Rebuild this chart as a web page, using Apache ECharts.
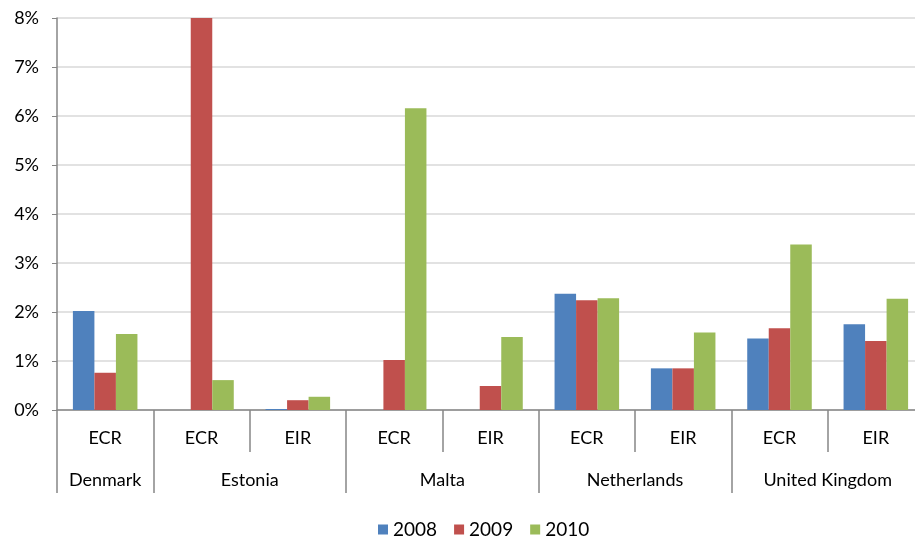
<!DOCTYPE html>
<html>
<head>
<meta charset="utf-8">
<script src="https://cdn.jsdelivr.net/npm/echarts@6/dist/echarts.min.js"></script>
<style>
  html, body { margin: 0; padding: 0; background: #fff; overflow: hidden; }
  /* the original plot runs a little past the right edge of the picture */
  #main { width: 930px; height: 538px; }
</style>
</head>
<body>
<div id="main"></div>
<script>
// sub categories (first level of the x axis)
var subCats = ['ECR', 'ECR', 'EIR', 'ECR', 'EIR', 'ECR', 'EIR', 'ECR', 'EIR'];
// countries and how many sub categories each spans
var countries = ['Denmark', 'Estonia', 'Malta', 'Netherlands', 'United Kingdom'];
var countrySpans = [1, 2, 2, 2, 2];
// values in %
var y2008 = [2.02, 0, 0.02, 0, 0, 2.37, 0.85, 1.46, 1.75];
var y2009 = [0.76, 8.0, 0.20, 1.02, 0.49, 2.24, 0.85, 1.67, 1.41];
var y2010 = [1.55, 0.61, 0.27, 6.16, 1.49, 2.28, 1.58, 3.38, 2.27];
var yTicks = [0, 1, 2, 3, 4, 5, 6, 7, 8];

var font = 'Lato, "Open Sans", sans-serif';

// boundaries and centres of the country groups (in category units)
var bounds = [0], centres = [];
var acc = 0;
for (var i = 0; i < countrySpans.length; i++) {
  centres.push(acc + countrySpans[i] / 2);
  acc += countrySpans[i];
  bounds.push(acc);
}

var chart = echarts.init(document.getElementById('main'));
chart.setOption({
  animation: false,
  textStyle: { fontFamily: font },
  color: ['#4F81BD', '#C0504D', '#9BBB59'],
  grid: { left: 57, top: 18, right: 6, bottom: 128 },
  legend: {
    top: 515,
    left: 373,
    itemWidth: 10,
    itemHeight: 10,
    itemGap: 17,
    icon: 'rect',
    textStyle: { fontSize: 19, color: '#000', fontFamily: font },
    data: ['2008', '2009', '2010']
  },
  xAxis: [{
    type: 'category',
    data: subCats,
    position: 'bottom',
    axisLine: { lineStyle: { color: '#868686', width: 1.5 } },
    axisTick: { show: true, interval: 0, length: 42, lineStyle: { color: '#868686', width: 1.5 } },
    axisLabel: { interval: 0, margin: 19, fontSize: 18, color: '#000', fontFamily: font }
  }, {
    type: 'value',
    min: 0,
    max: subCats.length,
    position: 'bottom',
    axisLine: { show: false },
    splitLine: { show: false },
    axisTick: { show: true, customValues: bounds, length: 83, lineStyle: { color: '#868686', width: 1.5 } },
    axisLabel: {
      customValues: centres,
      margin: 61,
      fontSize: 18,
      color: '#000',
      fontFamily: font,
      formatter: function (v) {
        var idx = centres.indexOf(v);
        return idx >= 0 ? countries[idx] : '';
      }
    }
  }],
  yAxis: {
    type: 'value',
    min: yTicks[0],
    max: yTicks[yTicks.length - 1],
    interval: 1,
    axisLine: { show: true, lineStyle: { color: '#868686', width: 1.5 } },
    axisTick: { show: true, length: 5, lineStyle: { color: '#868686' } },
    splitLine: { lineStyle: { color: '#D9D9D9', width: 1.5 } },
    axisLabel: { fontSize: 18, color: '#000', margin: 18, fontFamily: font, formatter: '{value}%' }
  },
  series: [
    { name: '2008', type: 'bar', data: y2008, barGap: '0%', barCategoryGap: '33%' },
    { name: '2009', type: 'bar', data: y2009, barGap: '0%', barCategoryGap: '33%' },
    { name: '2010', type: 'bar', data: y2010, barGap: '0%', barCategoryGap: '33%' }
  ]
});
</script>
</body>
</html>
